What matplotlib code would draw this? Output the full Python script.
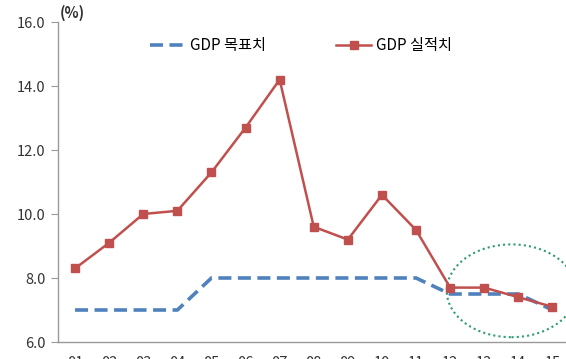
import matplotlib
matplotlib.use("Agg")
import matplotlib.pyplot as plt
from matplotlib.patches import Ellipse

plt.rcParams['font.family'] = ['Noto Sans CJK KR', 'DejaVu Sans']

years = ['01', '02', '03', '04', '05', '06', '07', '08', '09', '10', '11', '12', '13', '14', '15']
gdp_target = [7.0, 7.0, 7.0, 7.0, 8.0, 8.0, 8.0, 8.0, 8.0, 8.0, 8.0, 7.5, 7.5, 7.5, 7.0]
gdp_actual = [8.3, 9.1, 10.0, 10.1, 11.3, 12.7, 14.2, 9.6, 9.2, 10.6, 9.5, 7.7, 7.7, 7.4, 7.1]
y_ticks = [6.0, 8.0, 10.0, 12.0, 14.0, 16.0]

W, H = 566, 359
fig = plt.figure(figsize=(W / 100, H / 100), dpi=100)
left, right = 58, 58 + 15 * 34.1
top, bottom = 22, 342
ax = fig.add_axes([left / W, (H - bottom) / H, (right - left) / W, (bottom - top) / H])

x = list(range(len(years)))
ax.plot(x, gdp_target, color='#4f81bd', lw=2.6, ls=(0, (3.6, 1.8)), label='GDP 목표치')
ax.plot(x, gdp_actual, color='#c0504d', lw=1.8, marker='s', ms=6, label='GDP 실적치')

ax.set_xlim(-0.5, 14.5)
ax.set_ylim(6.0, 16.0)
ax.set_yticks(y_ticks)
ax.set_yticklabels([f'{v:.1f}' for v in y_ticks], fontsize=10.5, color='#333333')
ax.set_xticks(x)
ax.set_xticklabels(years, fontsize=10.5, color='#333333')
ax.tick_params(axis='x', length=0, pad=10)
ax.tick_params(axis='y', length=5, color='#999999', pad=4)

for s in ['top', 'right']:
    ax.spines[s].set_visible(False)
for s in ['left', 'bottom']:
    ax.spines[s].set_color('#999999')
    ax.spines[s].set_linewidth(1.0)

ell = Ellipse((12.8, 7.6), 3.8, 2.9, fill=False, edgecolor='#2e9e6e', lw=1.5, ls=(0, (1, 1.5)), clip_on=False)
ax.add_patch(ell)

ax.text(-0.45, 16.3, '(%)', fontsize=10.5, color='#333333', ha='left', va='center', fontweight='bold')

leg = ax.legend(loc='upper center', bbox_to_anchor=(0.475, 0.995), ncol=2, frameon=False,
                fontsize=11, handlelength=2.3, columnspacing=4.6, handletextpad=0.3)

fig.savefig('out.png', dpi=100)
